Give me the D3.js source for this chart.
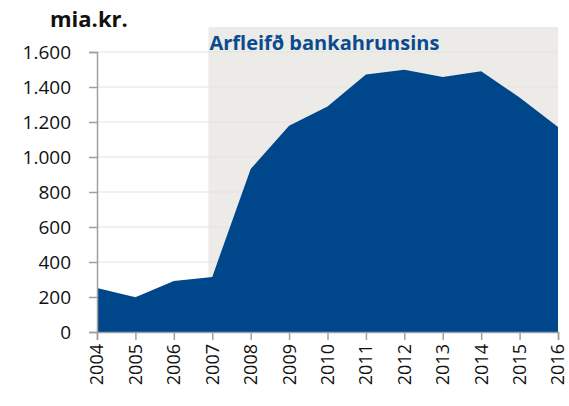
<!DOCTYPE html>
<html>
<head>
<meta charset="utf-8">
<script src="https://cdn.jsdelivr.net/npm/d3@7"></script>
<style>
  body { margin: 0; background: #fff; }
  svg { display: block; font-family: "Open Sans", sans-serif; }
</style>
</head>
<body>
<div id="chart"></div>
<script>
// values (mia.kr.)
const years = [2004, 2005, 2006, 2007, 2008, 2009, 2010, 2011, 2012, 2013, 2014, 2015, 2016]
const values = [251, 198, 292, 315, 932, 1178, 1289, 1471, 1499, 1457, 1490, 1340, 1172]
const yTicks = [0, 200, 400, 600, 800, 1000, 1200, 1400, 1600]
const shadeFrom = 2006.9  // grey band starts just before the 2007 tick
const shadeLabel = "Arfleifð bankahrunsins"
const unitLabel = "mia.kr."

const width = 569
const height = 406
const margin = { top: 52, right: 11, bottom: 74, left: 97 }

const svg = d3.select("#chart").append("svg")
    .attr("width", width).attr("height", height)

const x = d3.scaleLinear()
    .domain([years[0], years[years.length - 1]])
    .range([margin.left, width - margin.right])

const y = d3.scaleLinear()
    .domain([0, 1600])
    .range([height - margin.bottom, margin.top])

// grey band
svg.append("rect")
    .attr("x", x(shadeFrom))
    .attr("y", y(1600) - 25)
    .attr("width", x(years[years.length - 1]) - x(shadeFrom))
    .attr("height", y(0) - y(1600) + 25)
    .attr("fill", "#ecebe7")

// gridlines
svg.append("g").selectAll("line")
    .data(yTicks.slice(1)).enter()
    .append("line")
    .attr("x1", x(years[0])).attr("x2", x(years[years.length - 1]))
    .attr("y1", d => y(d)).attr("y2", d => y(d))
    .attr("stroke", "#e4e3df").attr("stroke-width", 1.2)

const area = d3.area()
    .x((d, i) => x(years[i]))
    .y0(y(0))
    .y1(d => y(d))

svg.append("path")
    .datum(values)
    .attr("d", area)
    .attr("fill", "#00468b")

// y axis
const yAxis = svg.append("g")
    .attr("transform", `translate(${margin.left},0)`)
    .call(d3.axisLeft(y).tickValues(yTicks).tickSize(8).tickPadding(18)
        .tickFormat(d => d3.format(",")(d).replace(",", ".")))
yAxis.select(".domain").attr("stroke", "#a0a0a0").attr("stroke-width", 1.5)
yAxis.selectAll(".tick line").attr("stroke", "#a0a0a0").attr("stroke-width", 1.5)
yAxis.selectAll("text").attr("fill", "#111").style("font-size", "19px")
    .style("font-family", "'Open Sans', sans-serif")

// x axis
const xAxis = svg.append("g")
    .attr("transform", `translate(0,${y(0)})`)
    .call(d3.axisBottom(x).tickValues(years).tickSize(8).tickFormat(d3.format("d")))
xAxis.select(".domain").attr("stroke", "#a0a0a0").attr("stroke-width", 1.5)
xAxis.selectAll(".tick line").attr("stroke", "#a0a0a0").attr("stroke-width", 1.5)
xAxis.selectAll("text")
    .attr("transform", "rotate(-90)")
    .attr("x", -12).attr("y", 0).attr("dy", "0.33em")
    .attr("text-anchor", "end")
    .attr("fill", "#111").style("font-size", "18px")
    .style("font-family", "'Open Sans', sans-serif")

// labels
svg.append("text")
    .attr("x", 50).attr("y", 27)
    .attr("font-weight", "bold").attr("font-size", 22)
    .attr("fill", "#111")
    .text(unitLabel)

svg.append("text")
    .attr("x", x(shadeFrom) + 1).attr("y", 50)
    .attr("font-weight", "bold").attr("font-size", 20)
    .attr("fill", "#0a4a8f")
    .text(shadeLabel)
</script>
</body>
</html>
